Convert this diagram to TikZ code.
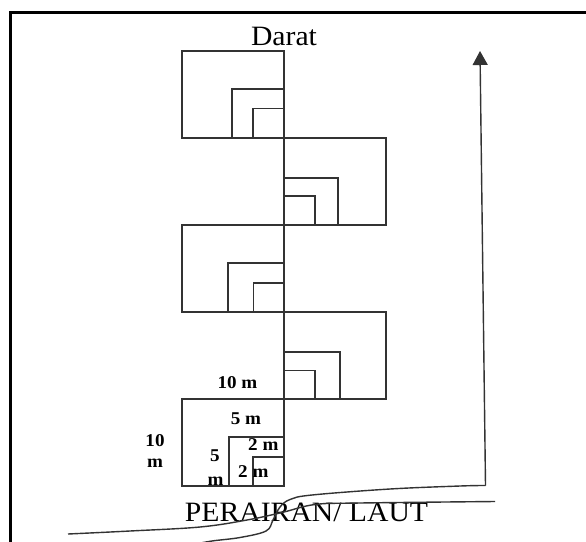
\documentclass[tikz,border=0pt]{standalone}
\usepackage{fontspec}
\setmainfont{Liberation Serif}
\newfontfamily\widefont[FakeStretch=1.06]{Liberation Serif}
\usetikzlibrary{arrows.meta}
\begin{document}
\begin{tikzpicture}[x=1pt,y=-1pt,
  sq/.style={draw=black!80, line width=1.7pt},
  lbl/.style={font=\widefont\fontsize{18}{18}\selectfont\bfseries, inner sep=0pt, anchor=base},
  bigtxt/.style={font=\widefont\fontsize{28}{28}\selectfont, inner sep=0pt, anchor=base},
  shore/.style={draw=black!80, line width=1.4pt}]
\useasboundingbox (0,0) rectangle (586,541);
\clip (0,0) rectangle (586,541);
\fill[white] (0,0) rectangle (586,541);
% frame (extends past right and bottom edges)
\draw[line width=2.6pt] (10.3,12.3) rectangle (700,700);

% big quadrats
\draw[sq] (182,51) rectangle (284,138);
\draw[sq] (284,138) rectangle (386,225);
\draw[sq] (182,225) rectangle (284,312);
\draw[sq] (284,312) rectangle (386,399);
\draw[sq] (182,399) rectangle (284,486);
% medium quadrats
\draw[sq] (231.7,89) rectangle (284,138);
\draw[sq] (284,177.7) rectangle (338,225);
\draw[sq] (228,263) rectangle (284,312);
\draw[sq] (284,352) rectangle (340,399);
\draw[sq] (228.7,437) rectangle (284,486);
% small quadrats
\draw[sq] (253.3,108.5) rectangle (284,138);
\draw[sq] (284,195.7) rectangle (315,225);
\draw[sq] (253.4,283) rectangle (284,312);
\draw[sq] (284,370.5) rectangle (315,399);
\draw[sq] (253,457) rectangle (284,486);
% transect line
\coordinate (ltop) at (284,51);
\coordinate (lbot) at (284,486);
\draw[sq] (ltop) -- (lbot);

% labels
\node[bigtxt] (darat) at (284,45) {Darat};
\node[bigtxt] (laut) at (306.5,521.7) {PERAIRAN/ LAUT};
\node[lbl] (l10a) at (237.5,388.3) {10 m};
\node[lbl] (l5a) at (246,424) {5 m};
\node[lbl] (l10b) at (155,446) {10};
\node[lbl] (l10bm) at (155,467.3) {m};
\node[lbl] (l5b) at (215,461.7) {5};
\node[lbl] (l5bm) at (215.5,485) {m};
\node[lbl] (l2a) at (263.3,450.7) {2 m};
\node[lbl] (l2b) at (253.3,477.3) {2 m};

% arrow
\coordinate (acorner) at (485.5,485.5);
\coordinate (atip) at (480,51);
\draw[draw=black!80, line width=1.4pt, -{Triangle[width=15pt,length=14pt]}] (acorner) -- (atip);

% shoreline curves
\draw[shore] plot[smooth, tension=0.6] coordinates {(485.5,485.5) (460,486) (390,489) (312,495) (290,499.5) (280,507) (273,520) (266,531) (240,537.5) (212,541) (190,545)};
\draw[shore] plot[smooth, tension=0.6] coordinates {(68,534) (130,531) (200,527) (247,520) (282,512.5) (315,504.5) (360,503) (495,501.5)};
\end{tikzpicture}
\end{document}
